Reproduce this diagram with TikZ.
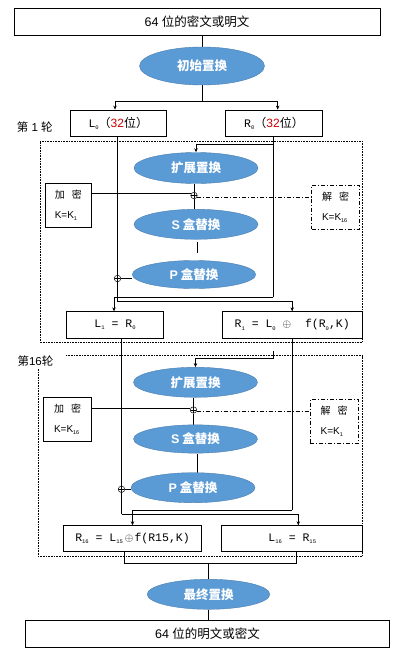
\documentclass[tikz,border=0pt]{standalone}
\usepackage{fontspec}
\setmainfont{Liberation Sans}
\newfontfamily\cjk{Noto Sans CJK SC}
\newfontfamily\mono{Liberation Mono}
\newfontfamily\sans{Liberation Sans}
\usetikzlibrary{shapes.geometric,arrows.meta,backgrounds,calc}
\definecolor{ellfill}{RGB}{91,155,213}
\definecolor{elldraw}{RGB}{75,125,175}
\definecolor{numred}{RGB}{204,0,0}
\newcommand{\sbs}[1]{\raisebox{-0.35ex}{\fontsize{5.5}{5.5}\selectfont #1}}
\newcommand{\xo}{{\fontsize{11}{12}\selectfont$\oplus$}}
\begin{document}
\begin{tikzpicture}[x=1pt,y=-1pt,
  box/.style={draw,line width=0.7pt,inner sep=0pt},
  ell/.style={ellipse,fill=ellfill,draw=elldraw,line width=0.4pt,inner sep=0pt,text=white,font=\cjk\bfseries\fontsize{12.5}{14}\selectfont},
  xorc/.style={circle,draw,line width=0.5pt,minimum size=6.5pt,inner sep=0pt,fill=white,
    path picture={\draw[line width=0.5pt] (path picture bounding box.north) -- (path picture bounding box.south)
      (path picture bounding box.west) -- (path picture bounding box.east);}},
  conn/.style={line width=0.7pt},
  arr/.style={conn,-{Stealth[length=4pt,width=3.5pt]}},
  dotframe/.style={line width=0.6pt,dash pattern=on 0.7pt off 0.9pt},
  dashdot/.style={line width=0.6pt,dash pattern=on 4pt off 2pt on 1pt off 2pt},
  keybox/.style={box,align=left,font=\fontsize{10}{20}\selectfont},
  formula/.style={box,font=\mono\fontsize{11.5}{13}\selectfont},
  lab/.style={inner sep=0pt,font=\fontsize{11.5}{13}\selectfont}
]
\useasboundingbox (0,0) rectangle (400,658);

% ---------- top ----------
\node[box,minimum width=366pt,minimum height=27pt] (top) at (197,21.5)
  {\fontsize{12.5}{14}\selectfont 64 {\cjk 位的密文或明文}};
\node[ell,minimum width=125pt,minimum height=38pt] (ip) at (202,66) {初始置换};
\node[box,minimum width=95.3pt,minimum height=26.7pt] (L0) at (118.3,123.3)
  {\mono\fontsize{11.5}{13}\selectfont L\sbs{0}{\cjk\fontsize{12}{14}\selectfont （}{\sans\fontsize{12}{14}\selectfont\color{numred}32}{\cjk\fontsize{12}{14}\selectfont 位）}};
\node[box,minimum width=96.6pt,minimum height=26.7pt] (R0) at (274,123.3)
  {\mono\fontsize{11.5}{13}\selectfont R\sbs{0}{\cjk\fontsize{12}{14}\selectfont （}{\sans\fontsize{12}{14}\selectfont\color{numred}32}{\cjk\fontsize{12}{14}\selectfont 位）}};
\node[lab] (lab1) at (34.7,127) {{\cjk 第} 1 {\cjk 轮}};

% ---------- round 1 ----------
\node[ell,minimum width=124pt,minimum height=31pt] (e1) at (196,168) {扩展置换};
\node[xorc] (x1) at (194,195.5) {};
\node[keybox,minimum width=46.7pt,minimum height=44pt] (enc1) at (68.3,205.3)
  {{\cjk 加\hspace{7pt}密}\\K=K\sbs{1}};
\node[keybox,dashdot,minimum width=47.6pt,minimum height=44.3pt] (dec1) at (335.5,207.2)
  {{\cjk 解\hspace{7pt}密}\\K=K\sbs{16}};
\node[ell,minimum width=124pt,minimum height=30pt] (S1) at (196,224.3) {{\sans\bfseries S} 盒替换};
\node[ell,minimum width=123.4pt,minimum height=28pt] (P1) at (194,274.5) {{\sans\bfseries P} 盒替换};
\node[xorc] (xL1) at (117.5,278.5) {};
\node[formula,minimum width=96.6pt,minimum height=26.6pt] (L1) at (115,325)
  {L\sbs{1} = R\sbs{0}};
\node[formula,minimum width=139.7pt,minimum height=26.6pt] (R1) at (292.2,325)
  {R\sbs{1} = L\sbs{0} \xo\ \ f(R\sbs{0},K)};

% ---------- round 16 ----------
\node[lab] (lab16) at (35.5,360.7) {{\cjk 第}16{\cjk 轮}};
\node[ell,minimum width=124pt,minimum height=30pt] (e16) at (195.5,382.3) {扩展置换};
\node[xorc] (x16) at (193.5,410) {};
\node[keybox,minimum width=48.4pt,minimum height=44.4pt] (enc16) at (67.5,419.5)
  {{\cjk 加\hspace{7pt}密}\\K=K\sbs{16}};
\node[keybox,dashdot,minimum width=48.3pt,minimum height=44pt] (dec16) at (334.2,421.3)
  {{\cjk 解\hspace{7pt}密}\\K=K\sbs{1}};
\node[ell,minimum width=124pt,minimum height=28.3pt] (S16) at (195.5,439) {{\sans\bfseries S} 盒替换};
\node[ell,minimum width=124pt,minimum height=30pt] (P16) at (193,487.7) {{\sans\bfseries P} 盒替换};
\node[xorc] (xL16) at (121.5,489.3) {};
\node[formula,minimum width=138.4pt,minimum height=25.3pt] (R16) at (132.5,538.3)
  {R\sbs{16} = L\sbs{15}\hspace{2pt}\xo\hspace{1pt}f(R15,K)};
\node[formula,minimum width=141pt,minimum height=25.3pt] (L16) at (292.2,538.3)
  {L\sbs{16} = R\sbs{15}};

% ---------- final ----------
\node[ell,minimum width=122.6pt,minimum height=30pt] (fp) at (208.5,594.3) {最终置换};
\node[box,minimum width=363.6pt,minimum height=27.3pt] (bot) at (207.5,633.7)
  {\fontsize{12.5}{14}\selectfont 64 {\cjk 位的明文或密文}};

\begin{scope}[on background layer]
  % frames
  \draw[dotframe] (40,141.7) rectangle (362.5,342);
  \draw[dotframe] (66,355.5) -- (362.5,355.5) -- (362.5,556) -- (38,556) -- (38,369);
  % top part
  \coordinate (sp) at (202,101.7);
  \draw[conn] (top.south -| ip.north) -- (ip.north);
  \draw[conn] (ip.south) -- (sp);
  \draw[arr] (sp) -| ([xshift=-3.3pt]L0.north);
  \draw[arr] (sp) -| ([xshift=3.7pt]R0.north);
  % round 1
  \coordinate (r0a) at (273,297.3);
  \coordinate (br1) at (273,144.3);
  \coordinate (o1) at (117.5,301.7);
  \draw[conn] (xL1 |- L0.south) -- (xL1.north);
  \draw[conn] (r0a |- R0.south) -- (r0a);
  \draw[arr] (r0a) -| ([xshift=-1pt]L1.north);
  \draw[arr] (br1) -| (e1.north);
  \draw[conn] (e1.south -| x1) -- (x1.north);
  \draw[conn] (enc1.east |- x1.150) -- (x1.150);
  \draw[dashdot] (x1.-30) -- (dec1.west |- x1.-30);
  \draw[conn] (x1.south) -- (x1 |- S1.north);
  \draw[conn] ($(S1.south)+(1.7,2.4)$) -- ($(P1.north)+(3.7,-7.2)$);
  \draw[conn] (xL1.east) -- (xL1 -| P1.west);
  \draw[conn] (xL1.south) -- (o1);
  \draw[arr] (o1) -| (R1.north);
  % between rounds
  \coordinate (r1a) at (292.2,510);
  \coordinate (st) at (273,351);
  \draw[conn] (xL16 |- L1.south) -- (xL16.north);
  \draw[conn] (r1a |- R1.south) -- (r1a);
  \draw[arr] (r1a) -| (R16.north);
  \draw[arr] (st) -- ++(0,7) -| (e16.north);
  % round 16
  \coordinate (o16) at (121.5,514.3);
  \draw[conn] (e16.south -| x16) -- (x16.north);
  \draw[conn] (enc16.east |- x16.150) -- (x16.150);
  \draw[dashdot] (x16.-30) -- (dec16.west |- x16.-30);
  \draw[conn] (x16.south) -- (x16 |- S16.north);
  \draw[conn] ($(S16.south)+(2.2,1)$) -- ($(P16.north)+(4.7,0)$);
  \draw[conn] (xL16.east) -- (xL16 -| P16.west);
  \draw[conn] (xL16.south) -- (o16);
  \draw[arr] (o16) -| ([xshift=6.1pt]L16.north);
  % final
  \coordinate (m) at (208.5,563.3);
  \draw[conn] ([xshift=-8.5pt]R16.south) |- (m);
  \draw[conn] ([xshift=4.5pt]L16.south) |- (m);
  \draw[conn] (m) -- (fp.north);
  \draw[conn] (fp.south) -- (fp.south |- bot.north);
\end{scope}
\end{tikzpicture}
\end{document}
